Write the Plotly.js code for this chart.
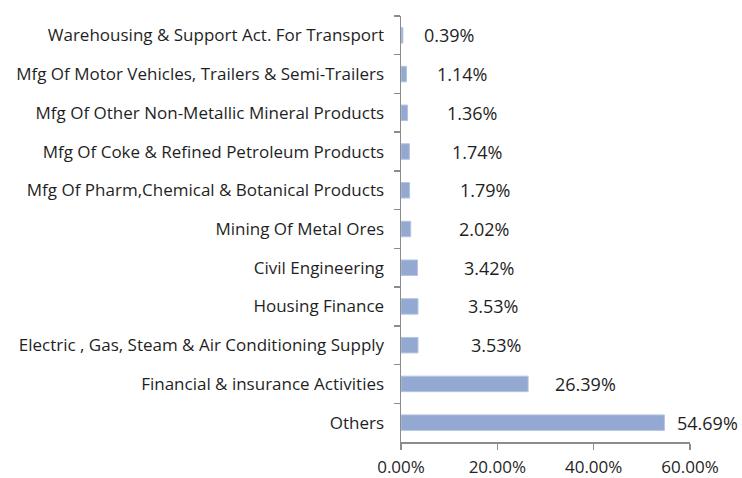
<!DOCTYPE html>
<html>
<head>
<meta charset="utf-8">
<script src="https://cdn.plot.ly/plotly-3.0.1.min.js"></script>
<style>html,body{margin:0;padding:0;background:#fff;}#chart{width:742px;height:478px;}</style>
</head>
<body>
<div id="chart"></div>
<script>
// Data (top to bottom as shown)
var categories = [
  "Warehousing & Support Act. For Transport",
  "Mfg Of Motor Vehicles, Trailers & Semi-Trailers",
  "Mfg Of Other Non-Metallic Mineral Products",
  "Mfg Of Coke & Refined Petroleum Products",
  "Mfg Of Pharm,Chemical & Botanical Products",
  "Mining Of Metal Ores",
  "Civil Engineering",
  "Housing Finance",
  "Electric , Gas, Steam & Air Conditioning Supply",
  "Financial & insurance Activities",
  "Others"
];
var shares = [0.39, 1.14, 1.36, 1.74, 1.79, 2.02, 3.42, 3.53, 3.53, 26.39, 54.69];
var xTicks = [0, 20, 40, 60];
var xTickLabels = ["0.00%", "20.00%", "40.00%", "60.00%"];

// label offsets in pixels (layout only)
var labelShift = [19, 29, 37, 41, 48, 46, 45, 48, 51, 25, 11];

var font = "'Open Sans', 'Liberation Sans', sans-serif";
var annotations = shares.map(function (v, i) {
  return {
    x: v, y: categories[i], xref: 'x', yref: 'y',
    text: v.toFixed(2) + '%', showarrow: false,
    xanchor: 'left', yanchor: 'middle', xshift: labelShift[i],
    font: {family: font, size: 18, color: '#1f1f1f'}
  };
});

var trace = {
  type: 'bar', orientation: 'h',
  x: shares, y: categories,
  marker: {color: '#94A9D1', line: {color: '#B4C4E0', width: 1}},
  hoverinfo: 'x+y'
};

var layout = {
  width: 742, height: 478,
  margin: {l: 401, r: 52, t: 16, b: 36},
  paper_bgcolor: '#fff', plot_bgcolor: '#fff',
  showlegend: false,
  bargap: 0.6,
  font: {family: font, size: 17, color: '#1f1f1f'},
  xaxis: {
    range: [0, 60], tickvals: xTicks, ticktext: xTickLabels,
    showgrid: false, zeroline: false,
    showline: true, linecolor: '#8c8c8c', linewidth: 1.5,
    ticks: 'outside', ticklen: 6, tickcolor: '#8c8c8c', tickwidth: 1.5,
    ticklabelstandoff: 3,
    tickfont: {family: font, size: 17, color: '#1f1f1f'},
    fixedrange: true
  },
  yaxis: {
    type: 'category', autorange: 'reversed',
    showgrid: false, zeroline: false,
    showline: true, linecolor: '#8c8c8c', linewidth: 1.5,
    ticks: 'outside', ticklen: 6, tickcolor: '#8c8c8c', tickwidth: 1.5,
    tickson: 'boundaries', ticklabelstandoff: 12,
    tickfont: {family: font, size: 17, color: '#1f1f1f'},
    fixedrange: true
  },
  annotations: annotations
};

Plotly.newPlot('chart', [trace], layout, {displayModeBar: false, staticPlot: true});
</script>
</body>
</html>
